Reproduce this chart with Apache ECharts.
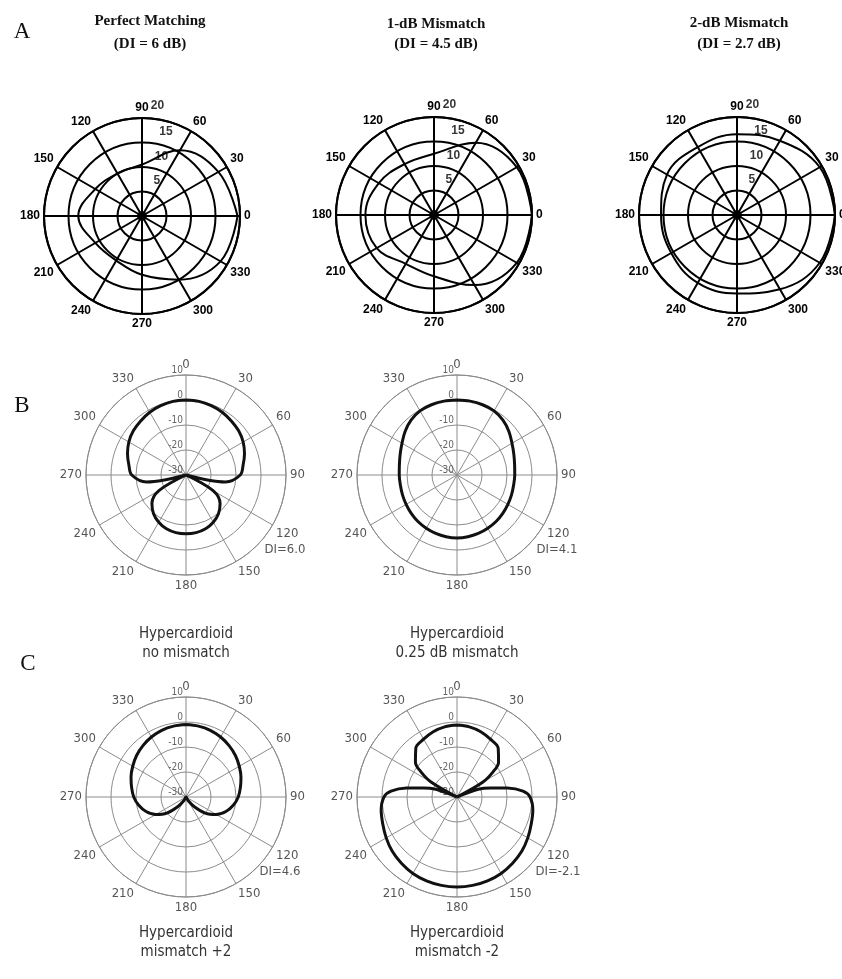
<!DOCTYPE html>
<html>
<head>
<meta charset="utf-8">
<script src="https://cdn.jsdelivr.net/npm/echarts@6/dist/echarts.min.js"></script>
<style>
html, body { margin: 0; padding: 0; background: #fff; }
#main { width: 842px; height: 979px; }
</style>
</head>
<body>
<div id="main"></div>
<script>
// row A: response in dB on a 0..20 scale, 0 deg at the right, counter clockwise
var A_ANGLES = [0, 30, 60, 90, 120, 150, 180, 210, 240, 270, 300, 330];
var A1_PERFECT = [19.5, 18, 15.5, 10.5, 10, 11, 13, 11, 10.5, 12, 15, 18.5];
var A2_MIS1DB = [20, 19.5, 17, 12.5, 12, 13, 14, 13.5, 11.5, 12.5, 16.5, 19.5];
var A3_MIS2DB = [20, 19.5, 17.5, 16.5, 16, 16.5, 15.5, 15.5, 16, 16, 17.5, 19.5];
var A_RTICKS = [5, 10, 15, 20];

// rows B, C: dB from -30 to 10, 0 deg at the top, clockwise
var BC_ANGLES = [0, 10, 20, 30, 40, 50, 60, 70, 80, 90, 100, 110, 120, 130, 140, 150, 160, 170,
	180, 190, 200, 210, 220, 230, 240, 250, 260, 270, 280, 290, 300, 310, 320, 330, 340, 350];
var B1_NOMIS = [0, -0.1, -0.5, -1.0, -1.8, -2.5, -3.6, -5.1, -6.8, -8.3, -14, -30, -17.5, -12.2, -9.8, -8.2, -7.1, -6.6,
	-6.5, -6.6, -7.1, -8.2, -9.8, -12.2, -17.5, -30, -14, -8.3, -6.8, -5.1, -3.6, -2.5, -1.8, -1.0, -0.5, -0.1];
var B2_MIS025 = [0, 0, -0.1, -0.4, -1.4, -2.9, -4.6, -5.8, -6.6, -6.9, -7.0, -6.8, -6.5, -6.1, -5.7, -5.4, -5.1, -4.9,
	-4.8, -4.9, -5.1, -5.4, -5.7, -6.1, -6.5, -6.8, -7.0, -6.9, -6.6, -5.8, -4.6, -2.9, -1.4, -0.4, -0.1, 0];
var C1_PLUS2 = [-1, -1.2, -1.6, -2.3, -3.2, -4.2, -5.4, -6.6, -7.9, -9.1, -10.8, -13, -16, -20, -25, -28.5, -30, -30,
	-30, -30, -30, -28.5, -25, -20, -16, -13, -10.8, -9.1, -7.9, -6.6, -5.4, -4.2, -3.2, -2.3, -1.6, -1.2];
var C2_ANGLES = [0, 10, 20, 30, 40, 50, 55, 60, 65, 70, 75, 80, 85, 90, 100, 110, 120, 130, 140, 150, 160, 170,
	180, 190, 200, 210, 220, 230, 240, 250, 260, 270, 275, 280, 285, 290, 295, 300, 305, 310, 320, 330, 340, 350];
var C2_MINUS2 = [-1.2, -1.5, -2.2, -3.3, -4.4, -8.3, -12.3, -18, -30, -21, -16, -9.5, -3.5, -0.8, 0.8, 1.6, 2.7, 3.8, 4.6, 5.3, 5.7, 5.9,
	6.0, 5.9, 5.7, 5.3, 4.6, 3.8, 2.7, 1.6, 0.8, -0.8, -3.5, -9.5, -16, -21, -30, -18, -12.3, -8.3, -4.4, -3.3, -2.2, -1.5];

var FIG = {
	opt: null,
	init: function()
	{
		this.opt = { animation: false, backgroundColor: '#fff', polar: [], angleAxis: [], radiusAxis: [], series: [], graphic: [] };

		this.plotA([142, 216], A_ANGLES, A1_PERFECT, ['Perfect Matching', '(DI = 6 dB)'], [150, 21]);
		this.plotA([434, 215], A_ANGLES, A2_MIS1DB, ['1-dB Mismatch', '(DI = 4.5 dB)'], [436, 24]);
		this.plotA([737, 215], A_ANGLES, A3_MIS2DB, ['2-dB Mismatch', '(DI = 2.7 dB)'], [739, 23]);

		this.plotBC([186, 475], BC_ANGLES, B1_NOMIS, 'DI=6.0', ['Hypercardioid', 'no mismatch'], 634, 99);
		this.plotBC([457, 475], BC_ANGLES, B2_MIS025, 'DI=4.1', ['Hypercardioid', '0.25 dB mismatch'], 634, 100);
		this.plotBC([186, 797], BC_ANGLES, C1_PLUS2, 'DI=4.6', ['Hypercardioid', 'mismatch +2'], 933, 94);
		this.plotBC([457, 797], C2_ANGLES, C2_MINUS2, 'DI=-2.1', ['Hypercardioid', 'mismatch -2'], 933, 101);

		// panel letters
		var letters = [['A', 22, 32], ['B', 22, 406], ['C', 28, 664]];
		for (var i = 0; i < letters.length; i++) {
			this.opt.graphic.push({ type: 'text', x: letters[i][1], y: letters[i][2], style: {
				text: letters[i][0], font: '23px "Liberation Serif", serif', fill: '#111',
				textAlign: 'center', textVerticalAlign: 'middle' } });
		}

		var chart = echarts.init(document.getElementById('main'));
		chart.setOption(this.opt);
	},
	closed: function(angles, vals)
	{
		var d = [];
		for (var i = 0; i < angles.length; i++) d.push([vals[i], angles[i]]);
		d.push([vals[0], 360]);
		return d;
	},
	text: function(str, x, y, font, color)
	{
		this.opt.graphic.push({ type: 'text', x: x, y: y, style: {
			text: str, font: font, fill: color, textAlign: 'center', textVerticalAlign: 'middle' } });
	},
	plotA: function(center, angles, vals, title, tpos)
	{
		var idx = this.opt.polar.length;
		var black = { color: '#000', width: 2 };
		this.opt.polar.push({ center: center, radius: 98 });
		this.opt.angleAxis.push({
			polarIndex: idx, type: 'value', min: 0, max: 360, interval: 30,
			startAngle: 0, clockwise: false,
			axisLine: { lineStyle: black },
			axisTick: { show: false },
			splitLine: { show: true, lineStyle: black },
			axisLabel: { margin: 4, color: '#000', fontSize: 12, fontWeight: 'bold', fontFamily: 'Liberation Sans',
				formatter: function(v) { return v == 360 ? '' : v; } }
		});
		this.opt.radiusAxis.push({
			polarIndex: idx, type: 'value', min: 0, max: 20, interval: 5,
			axisLine: { show: false }, axisTick: { show: false }, axisLabel: { show: false },
			splitLine: { show: true, lineStyle: black }
		});
		// radial tick labels sit along a spoke near 70 deg
		var labAng = [67, 72, 74, 82];
		var labs = [];
		for (var i = 0; i < A_RTICKS.length; i++) labs.push([A_RTICKS[i] + 2.8, labAng[i], A_RTICKS[i]]);
		this.opt.series.push({
			type: 'scatter', coordinateSystem: 'polar', polarIndex: idx, symbolSize: 0, clip: false, silent: true,
			data: labs,
			label: { show: true, position: 'inside', color: '#000', fontSize: 12, fontWeight: 'bold', fontFamily: 'Liberation Sans',
				formatter: function(p) { return p.value[2]; } }
		});
		// hub
		this.opt.series.push({
			type: 'scatter', coordinateSystem: 'polar', polarIndex: idx, symbolSize: 10, silent: true,
			itemStyle: { color: '#000' }, data: [[0, 0]]
		});
		this.opt.series.push({
			type: 'line', coordinateSystem: 'polar', polarIndex: idx, smooth: 0.4, showSymbol: false, silent: true,
			lineStyle: { color: '#000', width: 2 },
			data: this.closed(angles, vals)
		});
		var tf = 'bold 15px "Liberation Serif", serif';
		this.text(title[0], tpos[0], tpos[1], tf, '#111');
		this.text(title[1], tpos[0], 44, tf, '#111');
	},
	plotBC: function(center, angles, vals, di, caption, capY, diDx)
	{
		var idx = this.opt.polar.length;
		var grid = { color: '#8c8c8c', width: 1 };
		var font = '"Liberation Sans Narrow", "DejaVu Sans Condensed", sans-serif';
		this.opt.polar.push({ center: center, radius: 100 });
		this.opt.angleAxis.push({
			polarIndex: idx, type: 'value', min: 0, max: 360, interval: 30,
			startAngle: 90, clockwise: true,
			axisLine: { lineStyle: grid },
			axisTick: { show: false },
			splitLine: { show: true, lineStyle: grid },
			axisLabel: { margin: 4, color: '#555', fontSize: 13, fontFamily: font,
				formatter: function(v) { return v == 360 ? '' : v; } }
		});
		this.opt.radiusAxis.push({
			polarIndex: idx, type: 'value', min: -30, max: 10, interval: 10,
			axisLine: { show: false }, axisTick: { show: false },
			axisLabel: { show: true, margin: 3, color: '#666', fontSize: 10, fontFamily: font, verticalAlign: 'bottom' },
			splitLine: { show: true, lineStyle: grid }
		});
		this.opt.series.push({
			type: 'line', coordinateSystem: 'polar', polarIndex: idx, smooth: 0.35, showSymbol: false, silent: true,
			lineStyle: { color: '#111', width: 3 },
			data: this.closed(angles, vals)
		});
		var x = center[0];
		this.text(di, x + diDx, center[1] + 75, '13px ' + font, '#555');
		this.text(caption[0], x, capY, '15px ' + font, '#333');
		this.text(caption[1], x, capY + 19, '15px ' + font, '#333');
	}
};

FIG.init();
</script>
</body>
</html>
